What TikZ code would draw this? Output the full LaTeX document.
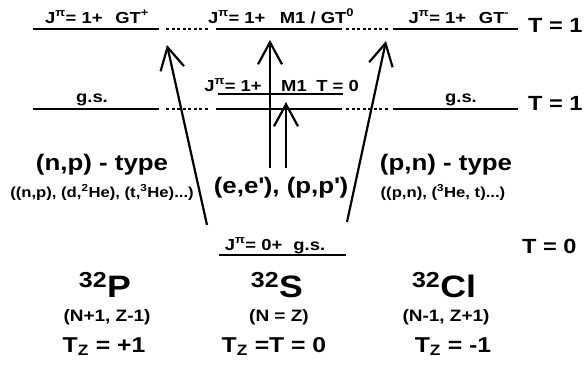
\documentclass[tikz,border=0pt]{standalone}
\usepackage{fontspec}
\setmainfont{Liberation Sans}[FakeStretch=1.15]
\usetikzlibrary{arrows.meta}
\newcommand\Jpi{J\textsuperscript{π}}
\newcommand\sz[1]{\fontsize{#1}{#1}\selectfont}
\newcommand\apo{\textquotesingle}
\begin{document}
\begin{tikzpicture}[x=1pt,y=-1pt,
  every node/.style={inner sep=0pt, font=\bfseries},
  level/.style={line width=2.6pt},
  dots/.style={line width=2.6pt, dash pattern=on 3pt off 2.5pt},
  arr/.style={line width=2.2pt, -{Straight Barb[length=22pt,width=24pt]}},
  lab/.style={anchor=base, font=\bfseries\sz{16}},
  tlab/.style={anchor=base west, font=\bfseries\sz{20.5}},
  big/.style={anchor=base, font=\bfseries\sz{22.5}},
  small/.style={anchor=base, font=\bfseries\sz{14.5}},
  nuc/.style={anchor=base, font=\bfseries\sz{31}},
  nz/.style={anchor=base, font=\bfseries\sz{16.5}},
  tz/.style={anchor=base, font=\bfseries\sz{21.5}}]
\useasboundingbox (0,0) rectangle (587,368);
% level lines
\draw[level] (33,29) -- (159,29);
\draw[dots] (166,29) -- (208,29);
\draw[level] (216,29) -- (342,29);
\draw[dots] (346,29) -- (388,29);
\draw[level] (393,29) -- (518,29);
\draw[level] (33,109) -- (159,109);
\draw[dots] (166,109) -- (208,109);
\draw[level] (216,109) -- (342,109);
\draw[dots] (346,109) -- (388,109);
\draw[level] (393,109) -- (518,109);
\draw[level] (218,94) -- (343,94);
\draw[level] (219,255) -- (346,255);
% labels
\node[lab] (l1) at (97,23) {\Jpi= 1+\hspace{0.8em}GT\textsuperscript{+}};
\node[lab] (l2) at (281,23) {\Jpi= 1+\hspace{0.9em}M1 / GT\textsuperscript{0}};
\node[lab] (l3) at (459,23) {\Jpi= 1+\hspace{0.8em}GT\textsuperscript{-}};
\node[tlab] (t1) at (528,32) {T = 1};
\node[tlab] (t2) at (528,110) {T = 1};
\node[tlab] (t3) at (522,253) {T = 0};
\node[lab] (gs1) at (92,102) {g.s.};
\node[lab] (gs3) at (461,102) {g.s.};
\node[lab] (m0a) at (233,91) {\Jpi= 1+};
\node[lab] (m0b) at (320,91) {M1\hspace{0.6em}T = 0};
\node[lab] (g0) at (275,250) {\Jpi= 0+\hspace{0.7em}g.s.};
\node[big] (np) at (102,170) {(n,p) - type};
\node[small] (npr) at (102,197) {((n,p), (d,\textsuperscript{2}He), (t,\textsuperscript{3}He)...)};
\node[big] (ee) at (281,193) {(e,e\apo), (p,p\apo)};
\node[big] (pn) at (446,170) {(p,n) - type};
\node[small] (pnr) at (443,197) {((p,n), (\textsuperscript{3}He, t)...)};
\node[nuc] (P) at (105,297) {\textsuperscript{32}P};
\node[nuc] (S) at (277,297) {\textsuperscript{32}S};
\node[nuc] (Cl) at (444,297) {\textsuperscript{32}Cl};
\node[nz] (P2) at (107,321) {(N+1, Z-1)};
\node[nz] (S2) at (279,321) {(N = Z)};
\node[nz] (Cl2) at (446,321) {(N-1, Z+1)};
\node[tz] (P3) at (104,352) {T\textsubscript{Z} = +1};
\node[tz] (S3) at (274,352) {T\textsubscript{Z} =T = 0};
\node[tz] (Cl3) at (453,352) {T\textsubscript{Z} = -1};
% arrows
\coordinate (v1s) at (270,168); \coordinate (v1e) at (270,40);
\coordinate (v2s) at (286,168); \coordinate (v2e) at (286,102);
\coordinate (lfs) at (207,225); \coordinate (lfe) at (167,45);
\coordinate (rts) at (347,222); \coordinate (rte) at (386,41);
\draw[arr] (v1s) -- (v1e);
\draw[arr] (v2s) -- (v2e);
\draw[arr] (lfs) -- (lfe);
\draw[arr] (rts) -- (rte);
\end{tikzpicture}
\end{document}
